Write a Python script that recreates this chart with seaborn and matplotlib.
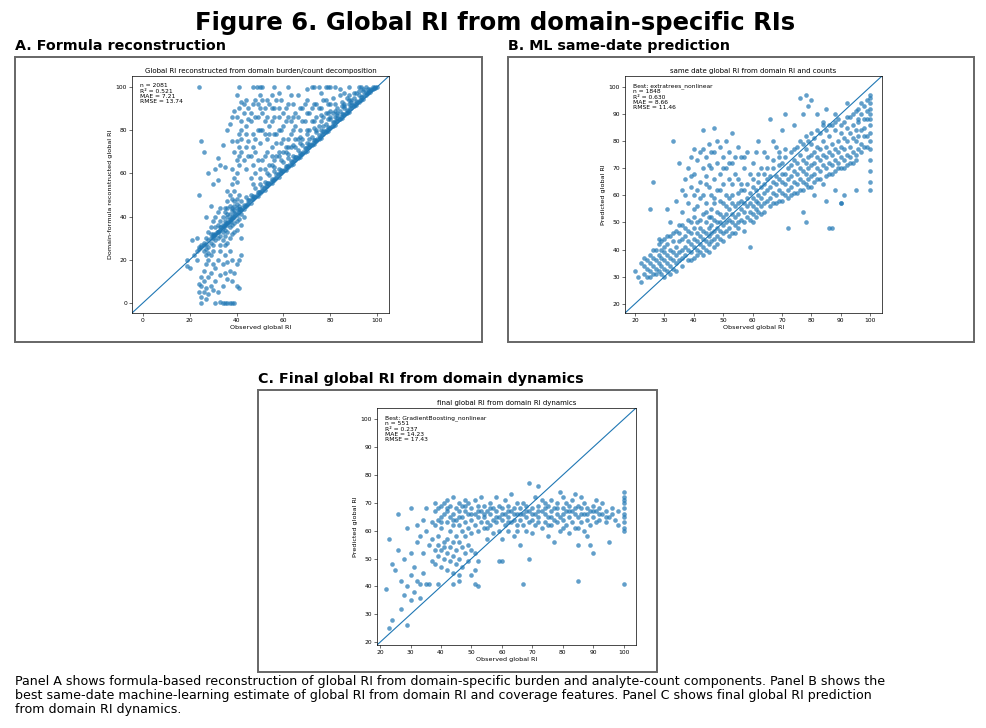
import matplotlib
matplotlib.use("Agg")
import matplotlib.pyplot as plt
from matplotlib.patches import Rectangle
import seaborn as sns

# Panel A: observed vs formula-reconstructed global RI
pts_a = [
    # band on the identity line
    (24,25),(25,26),(26,27),(27,27.5),(28,29),(29,30),(30,31),(31,31.5),(32,33),(33,34),(34,34.5),(35,36),(36,37),(37,37.5),
    (38,39),(39,40),(40,40.5),(41,42),(42,43),(43,43.5),(44,45),(45,46),(46,46.5),(47,48),(48,49),(49,49.5),(50,51),(51,52),
    (52,52.5),(53,54),(54,55),(55,55.5),(56,57),(57,58),(58,58.5),(59,60),(60,61),(61,61.5),(62,63),(63,64),(64,64.5),(65,66),
    (66,67),(67,67.5),(68,69),(69,70),(70,70.5),(71,72),(72,73),(73,73.5),(74,75),(75,76),(76,76.5),(77,78),(78,79),(79,79.5),
    (80,81),(81,82),(82,82.5),(83,84),(84,85),(85,85.5),(86,87),(87,88),(88,88.5),(89,90),(90,91),(91,91.5),(92,93),(93,94),
    (94,94.5),(95,96),(96,97),(97,97.5),(98,99),(99,99.5),(100,100),
    (36,41),(38,43),(40,44),(42,47),(44,49),(46,50),(48,53),(50,55),(52,56),(54,59),(56,61),(58,62),(60,65),(62,67),(64,68),
    (66,71),(68,73),(70,74),(72,77),(74,79),(76,80),(78,83),(80,85),(82,86),(84,89),(86,91),(88,92),(90,95),(92,96),(94,98),(96,99),
    (37.5,39),(39.5,41),(41.5,43.5),(43.5,45),(45.5,47.5),(47.5,49),(49.5,51.5),(51.5,53),(53.5,55.5),(55.5,57),(57.5,59.5),
    (59.5,61),(61.5,63.5),(63.5,65),(65.5,67.5),(67.5,69),(69.5,71.5),(71.5,73),(73.5,75.5),(75.5,77),(77.5,79.5),(79.5,81),
    (81.5,83.5),(83.5,85),(85.5,87.5),(87.5,89),(89.5,91.5),(91.5,93),(93.5,95.5),(95.5,97),(97.5,98.5),
    (30.5,31.5),(31.5,33),(32.5,33.5),(33.5,35),(34.5,35.5),(35.5,37),(36.5,37.5),(37,39),(38.5,40),(39,41.5),(40.5,42),
    (41,43.5),(42.5,44),(43,45.5),(44.5,46),(45,47.5),(46.5,48),(47,49.5),(48.5,50),(49,51.5),(50.5,52),(51,53.5),(52.5,54),
    (53,55.5),(54.5,56),(55,57.5),(56.5,58),(57,59.5),(58.5,60),(59,61.5),(60.5,62),(61,63.5),(62.5,64),(63,65.5),(64.5,66),
    (65,67.5),(66.5,68),(67,69.5),(68.5,70),(69,71.5),(70.5,72),(71,73.5),(72.5,74),(73,75.5),(74.5,76),(75,77.5),(76.5,78),
    (77,79.5),(78.5,80),(79,81.5),(80.5,82),(81,83.5),(82.5,84),(83,85.5),(84.5,86),(85,87.5),(86.5,88),(87,89.5),(88.5,90),
    (89,91.5),(90.5,92),(91,93.5),(92.5,94),(93,95.5),(94.5,96),(95,97.5),(96.5,98),(97,99),(98.5,99.5),
    # steep streak near x = 40
    (38,48),(39,52),(39,47),(40,56),(40,60),(41,64),(41,68),(41,72),(42,76),(42,80),(42,84),(43,88),(43,92),(40,86),(41,90),
    (42,93),(39,58),(40,66),(41,78),(38,55),(37,50),(37,45),(36,47),(35,44),(36,52),(38,62),(39,70),(40,75),(42,70),(43,66),
    (44,62),(44,72),(44,82),(45,90),(45,85),(44,94),
    # triangle above the line
    (46,58),(47,64),(48,70),(47,78),(48,86),(49,92),(50,62),(50,74),(51,80),(51,88),(52,68),(53,76),(53,94),(54,64),(55,84),
    (55,72),(56,90),(57,68),(57,78),(58,86),(59,74),(59,94),(60,70),(60,82),(61,90),(62,76),(62,86),(63,72),(64,80),(64,92),
    (65,76),(66,86),(66,96),(67,80),(68,90),(69,84),(70,78),(70,94),(71,88),(72,84),(73,92),(74,86),(75,90),(76,84),(77,94),
    (78,88),(79,92),(80,89),(81,95),(82,92),(83,90),(84,96),(85,93),(86,97),(87,95),(88,96),(90,97),(92,98),(94,99),
    (46,68),(48,60),(49,80),(52,84),(54,78),(56,66),(58,80),(61,72),(63,84),(65,88),(67,74),(69,92),(71,80),(73,84),(75,82),
    (77,86),(79,85),(81,88),(83,88),(86,92),(89,94),
    (47,55),(50,58),(53,60),(56,63),(59,66),(62,69),(65,72),(68,76),(71,76),(74,80),(77,82),(80,86),(83,87),(86,90),(89,93),
    (45,75),(46,84),(48,94),(50,96),(55,96),(58,97),(63,96),(70,99),(76,97),(84,99),
    (44,78),(45,68),(46,88),(47,72),(47,92),(48,76),(49,66),(49,86),(50,80),(50,90),(51,66),(51,94),(52,78),(52,90),(53,70),
    (53,86),(54,82),(54,92),(55,68),(55,90),(56,78),(56,86),(57,74),(57,94),(58,70),(58,90),(59,80),(60,76),(60,88),(61,84),
    (62,72),(62,92),(63,78),(64,86),(65,82),(66,76),(67,90),(68,84),(70,88),(72,90),(74,92),(76,90),(78,94),(80,92),
    (52,62),(55,64),(58,68),(61,70),(64,73),(67,77),(70,80),(73,81),(76,87),(79,88),(82,89),(85,91),(88,94),(91,97),
    # row at 100
    (24,100),(41,100),(47,100),(48.5,100),(50,100),(51,100),(56,100),(62,100),(72,100),(73,100),(75,100),(78,100),(79,100),
    (80,100),(82,100),(88,100),(92,100),(93,100),(95,100),(98,100),(99,100),
    # lower-left cluster
    (26,28),(27,25),(28,26),(27,30),(28,33),(29,28),(29,35),(30,27),(30,32),(30,38),(31,29),(31,35),(31,40),(32,30),(32,36),
    (32,42),(33,31),(33,38),(33,44),(34,29),(34,33),(34,40),(35,31),(35,38),(35,42),(36,33),(36,40),(36,44),(37,35),(37,41),
    (38,36),(38,44),(39,37),(39,43),(40,38),(40,46),(41,39),(41,45),(42,36),(42,41),(43,40),(34,36),(35,34),(33,35),(32,33),
    (31,32),(30,30),(29,32),(36,36),(37,38),(38,40),(39,45),(40,48),(41,50),(28,23),(27,22),(25,27),(26,24),(24,26),(23,24),
    (35,27),(36,28),(37,30),(33,27),(38,32),(39,33),(40,34),(42,30),
    (25,12),(25,8),(26,5),(26,10),(26,15),(27,18),(27,7),(28,12),(28,4),(28,20),(29,8),(29,14),(29,22),(30,6),(30,18),(30,24),
    (31,10),(31,16),(32,20),(32,5),(33,13),(33,24),(34,18),(34,8),(35,22),(35,14),(36,11),(36,19),(37,15),(37,24),(38,20),
    (39,14),(40,18),(40,8),(41,7),(41,20),(42,22),(38,10),(27,2),(24,5),(25,3),(24,9),
    (25,0),(31,0),(33,0.5),(34,0),(35,0),(36,0),(37,0),(38,0),(39,0),
    (19,20),(19,17),(20,16),(21,29),(23,30),(24,50),(25,75),(26,70),(28,60),(27,40),(29,45),(30,55),(31,62),(32,57),(32,67),
    (33,64),(34,73),(35,63),(36,80),(37,83),(38,86),(38,75),(39,89),(40,96),(22,22),(23,20),
]

# Panel B: observed vs same-date ML prediction
pts_b = [
    (20,32),(22,28),(22,35),(23,34),(23,31),(24,30),(24,33),(24,36),(25,32),(25,35),(25,38),(26,31),(26,34),(26,37),(27,33),
    (27,36),(27,40),(28,32),(28,35),(28,38),(28,42),(29,31),(29,34),(29,37),(29,40),(30,33),(30,36),(30,39),(30,44),(30,30),
    (31,32),(31,35),(31,38),(31,42),(32,34),(32,37),(32,40),(32,45),(33,33),(33,36),(33,39),(33,43),(34,35),(34,38),(34,41),
    (34,47),(35,36),(35,39),(35,43),(35,46),(36,37),(36,40),(36,44),(36,49),(37,38),(37,41),(37,45),(38,36),(38,40),(38,43),
    (38,47),(39,39),(39,42),(39,46),(39,50),(40,37),(40,41),(40,44),(40,48),(40,52),
    (41,40),(41,43),(41,46),(41,50),(42,39),(42,42),(42,45),(42,48),(43,41),(43,44),(43,47),(43,53),(44,40),(44,43),(44,46),
    (44,50),(45,42),(45,45),(45,48),(45,52),(46,43),(46,46),(46,49),(46,55),(47,41),(47,44),(47,47),(47,51),(48,45),(48,48),
    (48,50),(48,54),(49,44),(49,47),(49,50),(49,53),(50,46),(50,49),(50,52),(50,57),
    (51,47),(51,50),(51,53),(52,48),(52,51),(52,55),(52,59),(53,46),(53,50),(53,53),(53,57),(54,49),(54,52),(54,56),(55,50),
    (55,53),(55,57),(55,61),(56,51),(56,55),(56,58),(57,50),(57,54),(57,57),(57,62),(58,52),(58,56),(58,59),(59,41),(59,54),
    (59,57),(59,61),(60,53),(60,56),(60,59),(60,63),(60,50),
    (61,55),(61,58),(61,62),(62,54),(62,57),(62,60),(62,65),(63,56),(63,59),(63,63),(64,57),(64,61),(64,64),(64,68),(65,58),
    (65,62),(65,66),(66,59),(66,63),(66,67),(67,57),(67,61),(67,65),(67,70),(68,60),(68,64),(68,67),(69,58),(69,62),(69,66),
    (69,71),(70,61),(70,65),(70,68),(70,72),
    (71,60),(71,64),(71,68),(71,74),(72,48),(72,62),(72,66),(72,70),(73,63),(73,67),(73,71),(73,76),(74,61),(74,65),(74,69),
    (74,73),(75,64),(75,68),(75,72),(75,78),(76,62),(76,66),(76,70),(76,75),(77,65),(77,69),(77,73),(77,79),(78,50),(78,64),
    (78,68),(78,72),(78,77),(79,66),(79,70),(79,74),(79,80),(80,67),(80,71),(80,75),(80,79),(80,63),
    (81,68),(81,72),(81,76),(81,81),(82,66),(82,70),(82,74),(82,78),(83,69),(83,73),(83,77),(83,83),(84,64),(84,71),(84,75),
    (84,80),(85,70),(85,74),(85,78),(85,84),(86,48),(86,68),(86,72),(86,76),(86,82),(87,71),(87,75),(87,79),(87,86),(88,69),
    (88,73),(88,77),(88,84),(89,72),(89,76),(89,80),(89,88),(90,57),(90,70),(90,74),(90,78),(90,83),
    (91,73),(91,77),(91,81),(91,87),(92,71),(92,75),(92,80),(92,85),(93,74),(93,78),(93,83),(93,89),(94,72),(94,76),(94,81),
    (94,86),(95,75),(95,80),(95,84),(95,91),(96,77),(96,82),(96,87),(97,79),(97,84),(97,90),(98,78),(98,85),(98,93),(99,82),
    (99,88),(99,95),
    (100,62),(100,65),(100,69),(100,73),(100,77),(100,80),(100,83),(100,86),(100,88),(100,90),(100,92),(100,94),(100,96),(100,97),
    (21,30),(23,37),(25,30),(26,40),(27,31),(28,44),(29,43),(30,41),(31,45),(32,31),(33,46),(34,32),(35,49),(36,34),(37,48),
    (38,51),(39,36),(40,55),(41,38),(42,51),(43,38),(44,54),(45,39),(46,52),(47,57),(48,42),(49,58),(50,43),(51,56),(52,45),
    (53,60),(54,46),(55,48),(56,62),(57,47),(58,64),(59,51),(60,66),(61,52),(62,68),(63,53),(64,54),(65,70),(66,56),(67,73),
    (68,57),(69,74),(70,58),(71,77),(72,59),(73,60),(74,77),(75,61),(76,80),(77,62),(78,82),(79,63),(80,83),(81,65),(82,84),
    (83,66),(84,86),(85,67),(86,86),(87,68),(88,87),(89,70),(90,86),(91,70),(92,89),(93,72),(94,90),(95,73),(96,92),(97,76),
    (98,82),(99,78),(97,94),(98,88),(99,91),
    # upper cluster
    (33,80),(35,72),(34,58),(36,62),(37,66),(38,70),(38,57),(39,74),(39,63),(40,77),(40,68),(40,60),(41,73),(41,56),(42,65),
    (42,76),(43,70),(43,60),(43,84),(44,67),(44,74),(44,57),(45,79),(45,63),(46,70),(46,60),(47,76),(47,66),(47,85),(48,72),
    (48,62),(49,78),(49,68),(50,74),(50,64),(51,80),(51,70),(52,66),(52,76),(53,83),(53,72),(54,68),(55,78),(56,74),(56,64),
    (57,70),(58,76),(60,72),(62,80),(64,76),(66,88),(68,78),(70,84),(71,90),(74,86),(76,96),(77,90),(78,97),(79,93),(80,95),
    (82,90),(84,87),(85,92),(88,90),(92,94),(96,88),
    (37,60),(39,67),(41,62),(42,59),(43,77),(44,64),(45,71),(46,76),(47,59),(48,80),(49,62),(50,70),(51,60),(52,72),(53,64),
    (54,74),(55,66),(57,74),(59,68),(61,76),(63,70),(65,74),(67,80),(69,76),
    (26,65),(25,55),(31,55),(32,50),(36,54),(87,48),(90,57),(95,62),(91,60),(88,62),(85,58),(81,60),(77,54),
]

# Panel C: observed vs final-date prediction from domain dynamics
pts_c = [
    (38,62),(38,67),(38,70),(39,58),(39,64),(39,68),(40,65),(40,69),(40,61),(41,66),(41,70),(41,56),(42,63),(42,67),(42,71),
    (43,60),(43,65),(43,69),(44,62),(44,66),(44,72),(45,58),(45,64),(45,68),
    (38,53),(38,48),(39,51),(39,55),(40,47),(40,53),(41,50),(41,54),(42,46),(42,52),(42,57),(43,49),(43,54),(44,45),(44,51),
    (44,56),(45,48),(45,53),(46,50),(46,56),(47,47),(47,54),(48,52),(48,58),(49,49),(49,55),(50,53),(51,46),(51,52),(52,49),
    (50,44),(46,44),
    (46,62),(46,67),(46,70),(47,60),(47,65),(47,69),(48,63),(48,67),(48,71),(49,61),(49,66),(49,70),(50,64),(50,68),(50,59),
    (51,62),(51,66),(51,71),(52,60),(52,65),(52,69),(53,63),(53,67),(53,72),(54,61),(54,65),(54,69),(55,57),(55,63),(55,67),
    (56,62),(56,66),(56,70),(57,59),(57,64),(57,68),(58,63),(58,67),(58,72),(59,60),(59,65),(59,69),(60,57),(60,64),(60,68),
    (61,62),(61,66),(61,71),(62,60),(62,65),(62,69),(63,63),(63,67),(63,73),(64,58),(64,64),(64,68),(65,62),(65,66),(65,70),
    (66,55),(66,64),(66,68),(67,62),(67,66),(67,70),(68,60),(68,65),(68,69),(69,63),(69,67),(69,77),(70,59),(70,64),(70,68),
    (71,62),(71,66),(71,72),(72,65),(72,69),(72,76),(73,61),(73,67),(73,71),(74,63),(74,66),(74,70),(75,58),(75,65),(75,69),
    (76,62),(76,67),(76,71),(77,64),(77,68),(77,56),(78,63),(78,66),(78,70),(79,60),(79,65),(79,74),(80,64),(80,68),(80,72),
    (81,62),(81,67),(81,70),(82,65),(82,69),(82,59),(83,63),(83,67),(83,71),(84,61),(84,66),(84,73),(85,55),(85,65),(85,69),
    (86,63),(86,68),(86,72),(87,60),(87,66),(87,70),(88,58),(88,64),(88,68),(89,62),(89,67),(89,55),(90,65),(90,69),(90,52),
    (91,63),(91,67),(91,71),(92,64),(92,68),(93,66),(93,70),(94,63),(94,67),(95,56),(95,65),(96,68),(97,64),(98,62),(98,67),
    (100,41),(100,60),(100,61),(100,63),(100,65),(100,66),(100,68),(100,70),(100,71),(100,72),(100,74),
    (40,63),(42,68),(44,64),(46,65),(48,69),(50,66),(52,67),(54,66),(56,68),(58,65),(60,66),(62,67),(64,66),(66,66),(68,67),
    (70,66),(72,67),(74,68),(76,65),(78,68),(80,66),(82,67),(84,68),(86,66),(88,66),(90,67),(92,66),(94,65),(96,66),(55,61),
    (65,60),(75,62),(85,61),(62,63),(72,63),(80,61),
    (22,39),(23,57),(24,48),(24,28),(23,25),(25,46),(26,66),(26,53),(27,42),(27,32),(28,37),(28,50),(29,26),(29,40),(29,61),
    (30,44),(30,35),(30,52),(30,68),(31,47),(31,38),(32,42),(32,56),(32,62),(33,36),(33,41),(33,58),(34,45),(34,52),(34,64),
    (35,41),(35,60),(35,68),(36,55),(36,41),(37,57),(37,49),(37,63),(39,41),(44,41),(46,42),(51,41),(52,40),(59,49),(67,41),
    (69,50),(85,42),(60,49),
]

panel_titles = [
    "Global RI reconstructed from domain burden/count decomposition",
    "same date global RI from domain RI and counts",
    "final global RI from domain RI dynamics",
]
panel_ylabels = ["Domain-formula reconstructed global RI", "Predicted global RI", "Predicted global RI"]
panel_stats = [
    "n = 2081\nR² = 0.521\nMAE = 7.21\nRMSE = 13.74",
    "Best: extratrees_nonlinear\nn = 1848\nR² = 0.630\nMAE = 8.66\nRMSE = 11.46",
    "Best: GradientBoosting_nonlinear\nn = 551\nR² = 0.237\nMAE = 14.23\nRMSE = 17.43",
]
panel_heads = ["A. Formula reconstruction", "B. ML same-date prediction",
               "C. Final global RI from domain dynamics"]
caption = ("Panel A shows formula-based reconstruction of global RI from domain-specific burden and analyte-count components. Panel B shows the\n"
           "best same-date machine-learning estimate of global RI from domain RI and coverage features. Panel C shows final global RI prediction\n"
           "from domain RI dynamics.")

W, H = 986, 728
fig = plt.figure(figsize=(W / 100, H / 100), dpi=100)


def px_rect(x0, y0, x1, y1):
    return [x0 / W, 1 - y1 / H, (x1 - x0) / W, (y1 - y0) / H]


fig.text(495 / W, 1 - 23 / H, "Figure 6. Global RI from domain-specific RIs",
         ha="center", va="center", fontsize=17.5, fontweight="bold")

frames = [(15, 57, 482, 342), (508, 57, 974, 342), (258, 390, 657, 672)]
heads_xy = [(15, 46), (508, 46), (258, 379)]
axes_px = [(132, 76, 389, 313), (625, 76, 882, 313), (377, 408, 636, 645)]
limits = [(-4.6, 105), (16.6, 104), (19, 104)]
ticks = [range(0, 101, 20), range(20, 101, 10), range(20, 101, 10)]

for i, pts in enumerate([pts_a, pts_b, pts_c]):
    x0, y0, x1, y1 = frames[i]
    fig.patches.append(Rectangle((x0 / W, 1 - y1 / H), (x1 - x0) / W, (y1 - y0) / H,
                                 transform=fig.transFigure, fill=False,
                                 edgecolor="#666666", linewidth=1.4))
    hx, hy = heads_xy[i]
    fig.text(hx / W, 1 - hy / H, panel_heads[i], ha="left", va="center",
             fontsize=10.3, fontweight="bold")

    ax = fig.add_axes(px_rect(*axes_px[i]))
    xs = [p[0] for p in pts]
    ys = [p[1] for p in pts]
    sns.scatterplot(x=xs, y=ys, ax=ax, s=11, alpha=0.7, color="#1f77b4", linewidth=0)
    lo, hi = limits[i]
    ax.plot([lo, hi], [lo, hi], color="#1f77b4", linewidth=0.8)
    ax.set_xlim(lo, hi)
    ax.set_ylim(lo, hi)
    ax.set_xticks(list(ticks[i]))
    ax.set_yticks(list(ticks[i]))
    ax.tick_params(labelsize=4.3, length=2, width=0.4, pad=1.5)
    for sp in ax.spines.values():
        sp.set_linewidth(0.5)
    ax.set_title(panel_titles[i], fontsize=5, pad=2.5)
    ax.set_xlabel("Observed global RI", fontsize=4.6, labelpad=1.5)
    ax.set_ylabel(panel_ylabels[i], fontsize=4.6, labelpad=2)
    ax.text(0.03, 0.97, panel_stats[i], transform=ax.transAxes, ha="left", va="top",
            fontsize=4.3, linespacing=1.1)

fig.text(15 / W, 1 - 675 / H, caption, ha="left", va="top", fontsize=9.1, linespacing=1.1)

fig.savefig("out.png", dpi=100)
